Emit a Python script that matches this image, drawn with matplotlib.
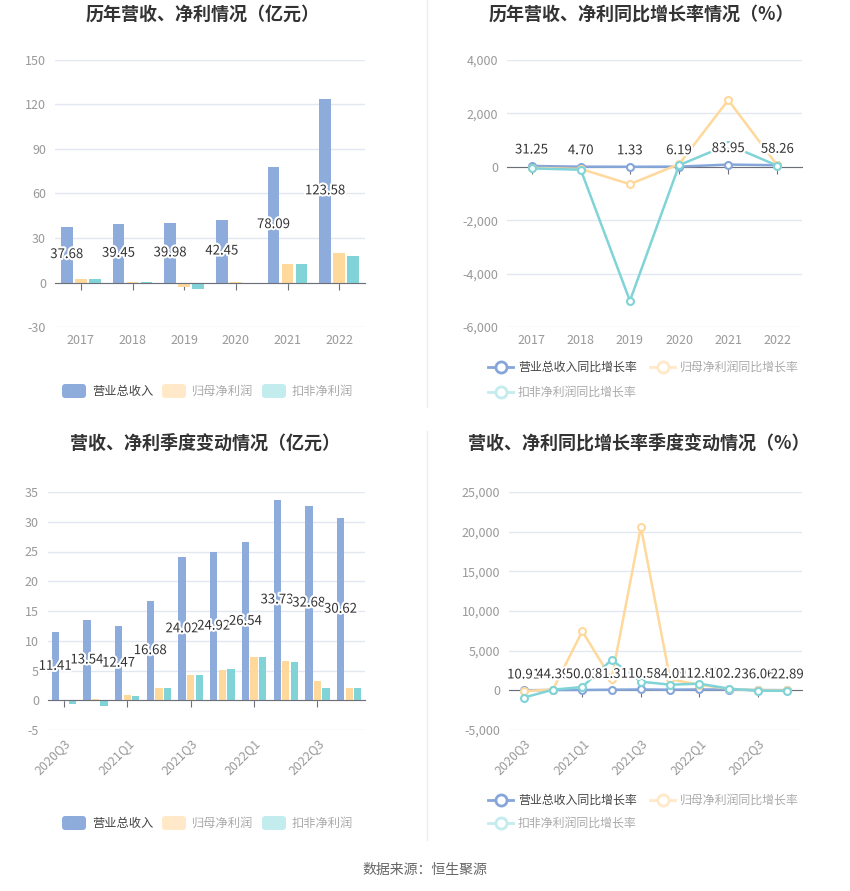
import matplotlib
matplotlib.use('Agg')
from matplotlib import pyplot as plt
from matplotlib import patheffects as pe
from matplotlib.patches import FancyBboxPatch
from matplotlib.lines import Line2D
from matplotlib.ticker import FuncFormatter
import numpy as np

plt.rcParams['font.family'] = ['Noto Sans CJK SC', 'DejaVu Sans']

# ---- data ----
years = ['2017', '2018', '2019', '2020', '2021', '2022']
rev_year = [37.68, 39.45, 39.98, 42.45, 78.09, 123.58]
np_year = [2.6, 0.55, -3.2, 0.5, 12.6, 19.6]
dnp_year = [2.1, 0.09, -4.4, -1.3, 12.5, 18.2]

rev_year_g = [31.25, 4.70, 1.33, 6.19, 83.95, 58.26]
np_year_g = [-40, -80, -650, 100, 2500, 50]
dnp_year_g = [-60, -110, -5020, 60, 830, 40]

quarters = ['2020Q3', '2020Q4', '2021Q1', '2021Q2', '2021Q3', '2021Q4',
            '2022Q1', '2022Q2', '2022Q3', '2022Q4']
rev_q = [11.41, 13.54, 12.47, 16.68, 24.02, 24.92, 26.54, 33.73, 32.68, 30.62]
np_q = [0.02, 0.25, 0.85, 2.1, 4.2, 5.15, 7.25, 6.6, 3.2, 2.1]
dnp_q = [-0.55, -0.95, 0.75, 2.0, 4.3, 5.2, 7.35, 6.4, 2.1, 2.1]

rev_q_g = [10.91, 44.39, 50.03, 81.33, 110.59, 84.09, 112.89, 102.22, 36.06, 22.89]
np_q_g = [-100, 100, 7450, 1420, 20600, 1400, 700, 200, -20, -10]
dnp_q_g = [-920, 80, 420, 3850, 1090, 710, 840, 210, -50, -60]

BLUE = '#8DACDB'
ORANGE = '#FFD89B'
TEAL = '#80D4D8'
ORANGE_L = '#FFE9C8'
TEAL_L = '#C2ECEE'
BLUE_LINE = '#86A6DA'

W, H = 850, 891
fig = plt.figure(figsize=(8.5, 8.91), dpi=100)


def fx(x):
    return x / W


def fy(y):
    return 1 - y / H


def box(x0, y0, x1, y1):
    return [fx(x0), fy(y1), (x1 - x0) / W, (y1 - y0) / H]


def setup(ax, ylim, step, fmt, labels, every=1, rot=0):
    ax.set_ylim(*ylim)
    ax.set_yticks(np.arange(ylim[0], ylim[1] + step, step))
    ax.yaxis.set_major_formatter(FuncFormatter(lambda v, p: fmt.format(v)))
    ax.grid(axis='y', color='#E3E7F1', lw=1)
    ax.set_axisbelow(True)
    for s in ['top', 'right', 'left']:
        ax.spines[s].set_visible(False)
    ax.spines['bottom'].set_position(('data', 0))
    ax.spines['bottom'].set_color('#6E7079')
    ax.spines['bottom'].set_zorder(2.5)
    n = len(labels)
    ax.set_xlim(-0.5, n - 0.5)
    ax.set_xticks(range(0, n, every))
    ax.tick_params(axis='x', length=5, color='#6E7079', labelbottom=False)
    ax.tick_params(axis='y', length=0, labelsize=9, labelcolor='#999999', pad=6.5)
    sec = ax.secondary_xaxis('bottom')
    sec.set_xticks(range(0, n, every))
    if rot:
        sec.set_xticklabels(labels[::every], rotation=rot, ha='right',
                            rotation_mode='anchor')
    else:
        sec.set_xticklabels(labels[::every])
    sec.tick_params(length=0, labelsize=9, labelcolor='#999999', pad=5)
    sec.spines['bottom'].set_visible(False)


def bars(ax, rev, np_, dnp):
    x = np.arange(len(rev))
    w = 0.23
    ax.bar(x - 0.27, rev, w, color=BLUE, zorder=2)
    ax.bar(x, np_, w, color=ORANGE, zorder=2)
    ax.bar(x + 0.27, dnp, w, color=TEAL, zorder=2)
    for i, v in enumerate(rev):
        ax.text(i - 0.27, v / 2, f'{v:.2f}', ha='center', va='center',
                fontsize=9.5, color='#333333', zorder=5,
                path_effects=[pe.withStroke(linewidth=3, foreground='white')])


def lines(ax, rev, np_, dnp, dy):
    x = np.arange(len(rev))
    kw = dict(lw=1.8, marker='o', ms=5, mfc='white', mew=1.5)
    ax.plot(x, rev, color=BLUE_LINE, zorder=3, **kw)
    ax.plot(x, np_, color=ORANGE, zorder=3, **kw)
    ax.plot(x, dnp, color=TEAL, zorder=3, **kw)
    for i, v in enumerate(rev):
        ax.annotate(f'{v:.2f}', (i, v), xytext=(0, dy), textcoords='offset points',
                    ha='center', va='center', fontsize=9.5, color='#333333', zorder=5,
                    path_effects=[pe.withStroke(linewidth=3, foreground='white')])


def legend_bar(y):
    items = [(62, BLUE, '营业总收入', '#444444'),
             (162, ORANGE_L, '归母净利润', '#aaaaaa'),
             (262, TEAL_L, '扣非净利润', '#aaaaaa')]
    for x, c, t, tc in items:
        fig.patches.append(FancyBboxPatch(
            (fx(x), fy(y + 7)), 24 / W, 14 / H,
            boxstyle='round,pad=0,rounding_size=0.004',
            transform=fig.transFigure, fc=c, ec='none'))
        fig.text(fx(x + 30), fy(y), t, fontsize=8.8, color=tc, va='center')


def legend_line(y1, y2):
    items = [(488, y1, BLUE_LINE, '营业总收入同比增长率', '#444444'),
             (650, y1, ORANGE_L, '归母净利润同比增长率', '#aaaaaa'),
             (488, y2, TEAL_L, '扣非净利润同比增长率', '#aaaaaa')]
    for x, y, c, t, tc in items:
        fig.add_artist(Line2D([fx(x), fx(x + 25)], [fy(y), fy(y)], color=c, lw=2))
        fig.add_artist(Line2D([fx(x + 12.5)], [fy(y)], color=c, marker='o', ms=8,
                              mfc='white', mew=2))
        fig.text(fx(x + 30), fy(y), t, fontsize=8.6, color=tc, va='center')


# chart 1
ax1 = fig.add_axes(box(55, 60, 365, 327))
bars(ax1, rev_year, np_year, dnp_year)
setup(ax1, (-30, 150), 30, '{:.0f}', years)
legend_bar(391)

# chart 2
ax2 = fig.add_axes(box(507, 60, 802, 327))
lines(ax2, rev_year_g, np_year_g, dnp_year_g, 11.5)
setup(ax2, (-6000, 4000), 2000, '{:,.0f}', years)
legend_line(367, 392)

# chart 3
ax3 = fig.add_axes(box(48, 492, 365, 730))
bars(ax3, rev_q, np_q, dnp_q)
setup(ax3, (-5, 35), 5, '{:.0f}', quarters, every=2, rot=45)
legend_bar(823)

# chart 4
ax4 = fig.add_axes(box(509, 492, 802, 730))
lines(ax4, rev_q_g, np_q_g, dnp_q_g, 11)
setup(ax4, (-5000, 25000), 5000, '{:,.0f}', quarters, every=2, rot=45)
legend_line(800, 823)

# titles
tkw = dict(fontsize=13, fontweight='bold', color='#333333', ha='center', va='center')
fig.text(fx(203), fy(14), '历年营收、净利情况（亿元）', **tkw)
fig.text(fx(641), fy(14), '历年营收、净利同比增长率情况（%）', **tkw)
fig.text(fx(205), fy(443), '营收、净利季度变动情况（亿元）', **tkw)
fig.text(fx(639), fy(443), '营收、净利同比增长率季度变动情况（%）', **tkw)
fig.text(fx(425), fy(870), '数据来源：恒生聚源', fontsize=10, color='#666666',
         ha='center', va='center')

# dividers
fig.add_artist(Line2D([fx(427), fx(427)], [fy(0), fy(407)], color='#EEEEEE', lw=1))
fig.add_artist(Line2D([fx(427), fx(427)], [fy(431), fy(840)], color='#EEEEEE', lw=1))

fig.savefig('out.png', dpi=100)
